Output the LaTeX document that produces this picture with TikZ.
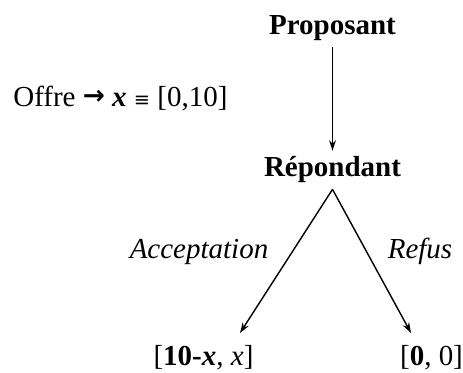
\documentclass[tikz,border=0pt]{standalone}
\usepackage{fontspec}
\setmainfont{Liberation Serif}
\newfontfamily\symfont{DejaVu Sans}
\usepackage{tikz}
\usetikzlibrary{positioning, arrows.meta, calc}

\begin{document}
\begin{tikzpicture}[
            every node/.style={font=\fontsize{16.5}{19}\selectfont},
            % Styles des joueurs et des branches
            joueur/.style={font=\fontsize{16.5}{19}\selectfont\bfseries, anchor=base},
            action/.style={font=\fontsize{16.5}{19}\selectfont\itshape, anchor=base},
            gain/.style={anchor=base},
            arrow/.style={thick,-{Stealth[length=6pt,width=4pt]}}
        ]
            \useasboundingbox (0,0) rectangle (9.26,-7.46);

            % Noeuds
            \node (prop) [joueur] at (6.65,-0.70) {Proposant};
            \node (rep) [joueur] at (6.65,-3.54) {Répondant};
            \node (offre) [anchor=base west, inner sep=0pt] at (0.26,-2.14) {Offre \raisebox{1.5pt}{\symfont\bfseries\fontsize{15}{16}\selectfont →} \textbf{\textit{x}} {\symfont\fontsize{11}{12}\selectfont ≡} [0,10]};

            \coordinate (tipA) at (4.80,-6.66);
            \coordinate (tipR) at (8.22,-6.66);

            \node (accept) [action] at (3.98,-5.18) {Acceptation};
            \node (refus) [action] at (8.40,-5.18) {Refus};

            \node (gainA) [gain] at (4.07,-7.32) {[\textbf{10-\textit{x}}, \textit{x}]};
            \node (gainR) [gain] at (8.63,-7.32) {[\textbf{0}, 0]};

            % Connexions (fleches)
            \draw [arrow] (prop.south) -- (rep.north);
            \draw [arrow] (rep.south) -- (tipA);
            \draw [arrow] (rep.south) -- (tipR);

        \end{tikzpicture}
\end{document}
